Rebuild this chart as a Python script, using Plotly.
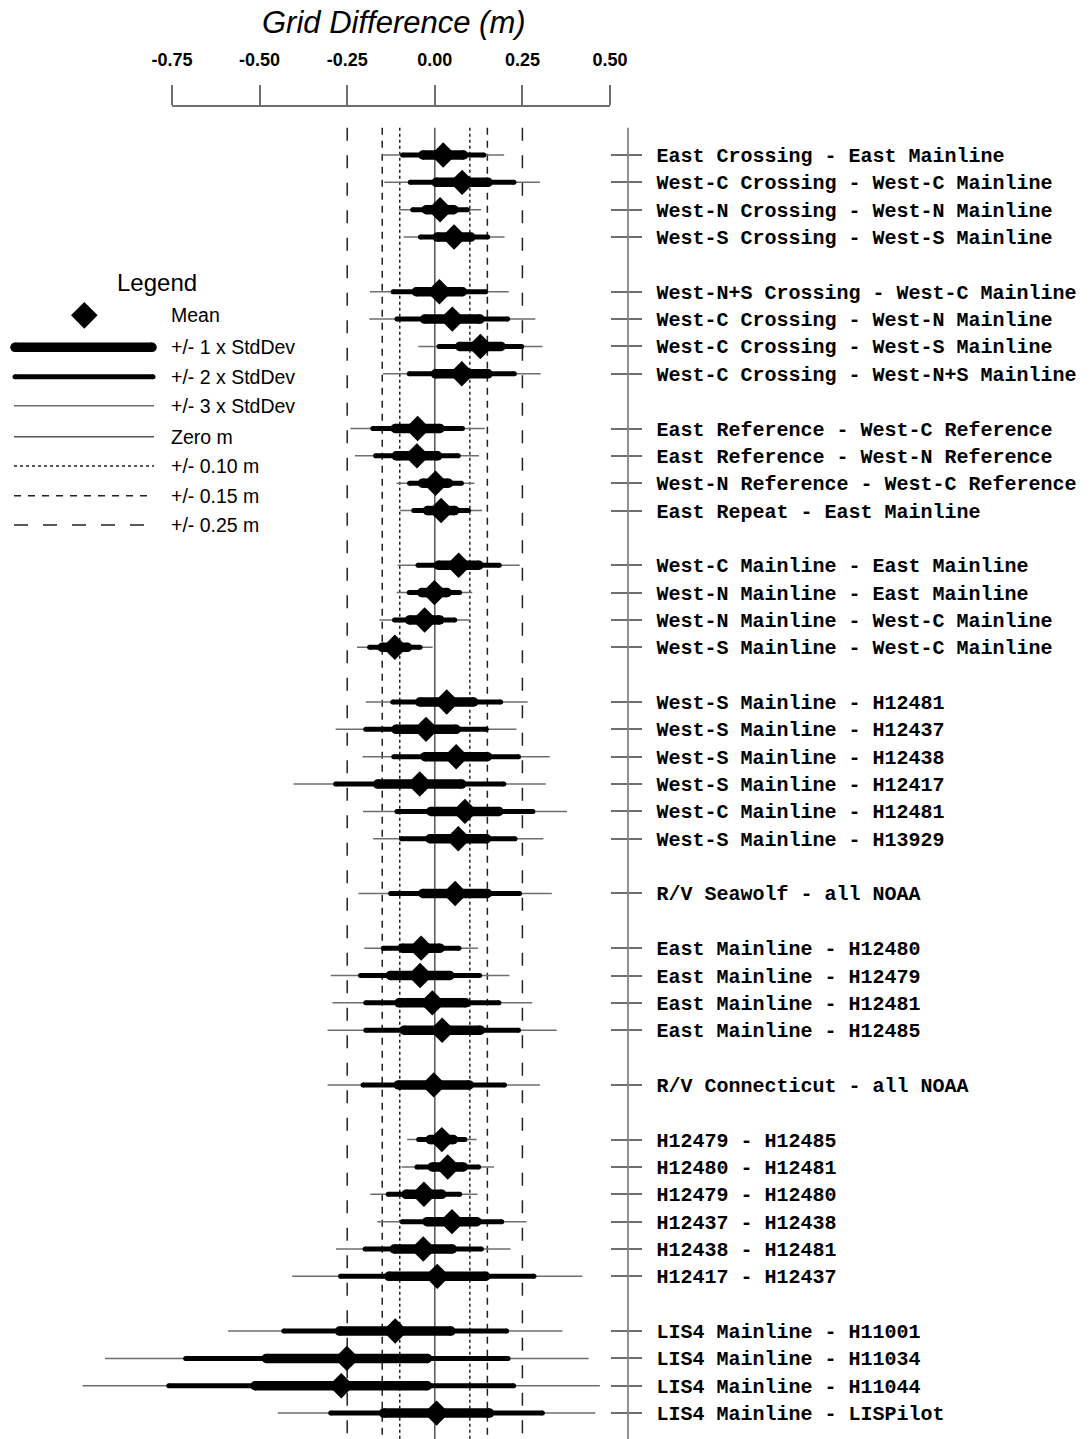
import plotly.graph_objects as go

# ---------------------------------------------------------------------------
# Grid-difference statistics for each surface comparison (metres)
# ---------------------------------------------------------------------------
comparisons = [
    "East Crossing - East Mainline",
    "West-C Crossing - West-C Mainline",
    "West-N Crossing - West-N Mainline",
    "West-S Crossing - West-S Mainline",
    "West-N+S Crossing - West-C Mainline",
    "West-C Crossing - West-N Mainline",
    "West-C Crossing - West-S Mainline",
    "West-C Crossing - West-N+S Mainline",
    "East Reference - West-C Reference",
    "East Reference - West-N Reference",
    "West-N Reference - West-C Reference",
    "East Repeat - East Mainline",
    "West-C Mainline - East Mainline",
    "West-N Mainline - East Mainline",
    "West-N Mainline - West-C Mainline",
    "West-S Mainline - West-C Mainline",
    "West-S Mainline - H12481",
    "West-S Mainline - H12437",
    "West-S Mainline - H12438",
    "West-S Mainline - H12417",
    "West-C Mainline - H12481",
    "West-S Mainline - H13929",
    "R/V Seawolf - all NOAA",
    "East Mainline - H12480",
    "East Mainline - H12479",
    "East Mainline - H12481",
    "East Mainline - H12485",
    "R/V Connecticut - all NOAA",
    "H12479 - H12485",
    "H12480 - H12481",
    "H12479 - H12480",
    "H12437 - H12438",
    "H12438 - H12481",
    "H12417 - H12437",
    "LIS4 Mainline - H11001",
    "LIS4 Mainline - H11034",
    "LIS4 Mainline - H11044",
    "LIS4 Mainline - LISPilot",
]

# number of comparisons in each block (blocks are separated by a blank row)
group_sizes = [4, 4, 4, 4, 6, 1, 4, 1, 6, 4]

mean_diff = [
    0.024, 0.078, 0.015, 0.055,
    0.013, 0.050, 0.130, 0.077,
    -0.049, -0.051, 0.002, 0.018,
    0.068, -0.001, -0.029, -0.114,
    0.034, -0.025, 0.061, -0.043, 0.086, 0.067,
    0.058,
    -0.039, -0.042, -0.007, 0.021,
    -0.003,
    0.020, 0.037, -0.031, 0.049, -0.033, 0.007,
    -0.113, -0.251, -0.267, 0.005,
]

std_dev = [
    0.058, 0.074, 0.039, 0.048,
    0.066, 0.079, 0.059, 0.075,
    0.064, 0.059, 0.037, 0.039,
    0.058, 0.036, 0.043, 0.036,
    0.077, 0.086, 0.089, 0.120, 0.097, 0.081,
    0.092,
    0.054, 0.085, 0.095, 0.109,
    0.101,
    0.033, 0.044, 0.051, 0.071, 0.083, 0.138,
    0.159, 0.230, 0.246, 0.151,
]

scale_ticks = [-0.75, -0.50, -0.25, 0.00, 0.25, 0.50]
scale_tick_text = ["-0.75", "-0.50", "-0.25", "0.00", "0.25", "0.50"]

reference_lines = [0.0, -0.10, 0.10, -0.15, 0.15, -0.25, 0.25]

# ---------------------------------------------------------------------------
# Page geometry
# ---------------------------------------------------------------------------
W, H = 1090, 1439
X_ZERO_PX, PX_PER_M = 434.8, 350.4      # horizontal calibration of the scale
ROW0_PX, ROW_PX = 155.0, 27.35          # vertical position of first row, row pitch
TOP_PX = 107                            # scale axis line
AXIS_X_PX = 628                         # vertical label axis

SANS = "Liberation Sans, Arial, sans-serif"
MONO = "Liberation Mono, Courier New, monospace"
GREY = "#6e6e6e"
DARK = "#222222"


def m_at(px):
    return (px - X_ZERO_PX) / PX_PER_M


def row_at(py):
    return (py - ROW0_PX) / ROW_PX


def paper_x(px):
    return px / W


def paper_y(py):
    return 1 - py / H


# row index of each comparison, leaving one blank row between blocks
rows = []
pos = 0
for size in group_sizes:
    rows.extend(range(pos, pos + size))
    pos += size + 1

y_bottom = row_at(H)
y_top = row_at(TOP_PX)


def spans(k):
    xs, ys = [], []
    for m, s, r in zip(mean_diff, std_dev, rows):
        xs += [m - k * s, m + k * s, None]
        ys += [r, r, None]
    return xs, ys


fig = go.Figure()

# +/- 3, 2, 1 standard deviations
x3, y3 = spans(3)
fig.add_trace(go.Scatter(x=x3, y=y3, mode="lines",
                         line=dict(color=GREY, width=1.5)))
x2, y2 = spans(2)
fig.add_trace(go.Scatter(x=x2, y=y2, mode="lines+markers",
                         line=dict(color="black", width=5),
                         marker=dict(color="black", size=5, symbol="circle")))
x1, y1 = spans(1)
fig.add_trace(go.Scatter(x=x1, y=y1, mode="lines+markers",
                         line=dict(color="black", width=9.5),
                         marker=dict(color="black", size=9.5, symbol="circle")))
# means
fig.add_trace(go.Scatter(x=mean_diff, y=rows, mode="markers",
                         marker=dict(color="black", size=19.5, symbol="diamond",
                                     line=dict(width=0))))

# helper traces so the auxiliary axes get drawn
fig.add_trace(go.Scatter(x=[None], y=[None], xaxis="x2", yaxis="y"))
fig.add_trace(go.Scatter(x=[None], y=[None], xaxis="x", yaxis="y2"))

# vertical reference lines
line_styles = {
    0.0: dict(color="#555555", width=1.5, dash="solid"),
    0.10: dict(color=DARK, width=1.5, dash="3px,3px"),
    0.15: dict(color=DARK, width=1.5, dash="7px,6px"),
    0.25: dict(color=DARK, width=1.5, dash="13px,14.5px"),
}
shapes = []
for v in reference_lines:
    shapes.append(dict(type="line", xref="x", yref="y", x0=v, x1=v,
                       y0=-1, y1=y_bottom, layer="below",
                       line=line_styles[abs(v)]))
# label axis spine
shapes.append(dict(type="line", xref="paper", yref="y",
                   x0=paper_x(AXIS_X_PX), x1=paper_x(AXIS_X_PX),
                   y0=-1, y1=y_bottom, layer="below",
                   line=dict(color=GREY, width=1.5)))

# ---------------------------------------------------------------------------
# Legend (drawn as samples + text on the left)
# ---------------------------------------------------------------------------
LEG_X0, LEG_X1, LEG_TXT = 14, 154, 169
legend_rows = {
    "Mean": 315.3,
    "+/- 1 x StdDev": 347.3,
    "+/- 2 x StdDev": 376.7,
    "+/- 3 x StdDev": 405.7,
    "Zero m": 436.7,
    "+/- 0.10 m": 466.0,
    "+/- 0.15 m": 495.7,
    "+/- 0.25 m": 525.0,
}

fig.add_trace(go.Scatter(x=[m_at(84.3)], y=[row_at(legend_rows["Mean"])],
                         mode="markers",
                         marker=dict(color="black", size=20.5, symbol="diamond")))
# name: (line style, round-cap diameter, left/right ends in px)
sample_styles = {
    "+/- 1 x StdDev": (dict(color="black", width=9.5), 9.5, (15, 152)),
    "+/- 2 x StdDev": (dict(color="black", width=5), 5, (15, 153)),
    "+/- 3 x StdDev": (dict(color=GREY, width=1.5), 0, (LEG_X0, LEG_X1)),
    "Zero m": (dict(color="#555555", width=1.5), 0, (LEG_X0, LEG_X1)),
    "+/- 0.10 m": (dict(color=DARK, width=1.5, dash="3px,3px"), 0, (LEG_X0, LEG_X1)),
    "+/- 0.15 m": (dict(color=DARK, width=1.5, dash="7px,7px"), 0, (LEG_X0, LEG_X1)),
    "+/- 0.25 m": (dict(color=DARK, width=1.5, dash="14px,15px"), 0, (LEG_X0, LEG_X1)),
}
for name, (ln, cap, (px0, px1)) in sample_styles.items():
    yy = row_at(legend_rows[name])
    fig.add_trace(go.Scatter(x=[m_at(px0), m_at(px1)], y=[yy, yy],
                             mode="lines+markers" if cap else "lines",
                             line=ln,
                             marker=dict(color="black", size=cap, symbol="circle")))

annotations = [
    dict(text="Legend", x=paper_x(156.7), y=paper_y(282), xref="paper", yref="paper",
         xanchor="center", yanchor="middle", showarrow=False,
         font=dict(family=SANS, size=24, color="black")),
    dict(text="<i>Grid Difference (m)</i>", x=paper_x(393.5), y=paper_y(22),
         xref="paper", yref="paper", xanchor="center", yanchor="middle",
         showarrow=False, font=dict(family=SANS, size=31, color="black")),
]
for name, py in legend_rows.items():
    annotations.append(dict(text=name, x=paper_x(LEG_TXT), y=paper_y(py),
                            xref="paper", yref="paper", xanchor="left",
                            yanchor="middle", showarrow=False,
                            font=dict(family=SANS, size=19.5, color="black")))

fig.update_traces(showlegend=False, hoverinfo="skip")

fig.update_layout(
    width=W, height=H, autosize=False,
    margin=dict(l=0, r=0, t=0, b=0, pad=0, autoexpand=False),
    paper_bgcolor="white", plot_bgcolor="rgba(0,0,0,0)",
    showlegend=False, hovermode=False,
    shapes=shapes, annotations=annotations,
    xaxis=dict(domain=[0, 1], range=[m_at(0), m_at(W)], visible=False,
               fixedrange=True, automargin=False),
    xaxis2=dict(domain=[paper_x(172), paper_x(610)], range=[-0.75, 0.5],
                anchor="y", side="top", tickvals=scale_ticks,
                ticktext=scale_tick_text, ticks="outside", ticklen=20,
                tickwidth=1.5, tickcolor=GREY, showline=True, linecolor=GREY,
                linewidth=1.5, showgrid=False, zeroline=False,
                ticklabelstandoff=12, automargin=False,
                tickfont=dict(family=SANS, size=18, color="black",
                              weight="bold")),
    yaxis=dict(domain=[0, 1 - TOP_PX / H], range=[y_bottom, y_top],
               anchor="free", position=paper_x(AXIS_X_PX), side="right",
               tickvals=rows, ticktext=comparisons, ticks="outside",
               ticklen=13.4, tickwidth=1.5, tickcolor=GREY,
               showline=False, showgrid=False, zeroline=False,
               ticklabelstandoff=10, automargin=False,
               tickfont=dict(family=MONO, size=20, color="black",
                             weight="bold")),
    yaxis2=dict(overlaying="y", range=[y_bottom, y_top], anchor="free",
                position=paper_x(AXIS_X_PX), side="left", tickvals=rows,
                ticks="outside", ticklen=16.6, tickwidth=1.5, tickcolor=GREY,
                showticklabels=False, showline=False, showgrid=False,
                zeroline=False, automargin=False),
)

fig.write_html("out.html", config={"displayModeBar": False})
